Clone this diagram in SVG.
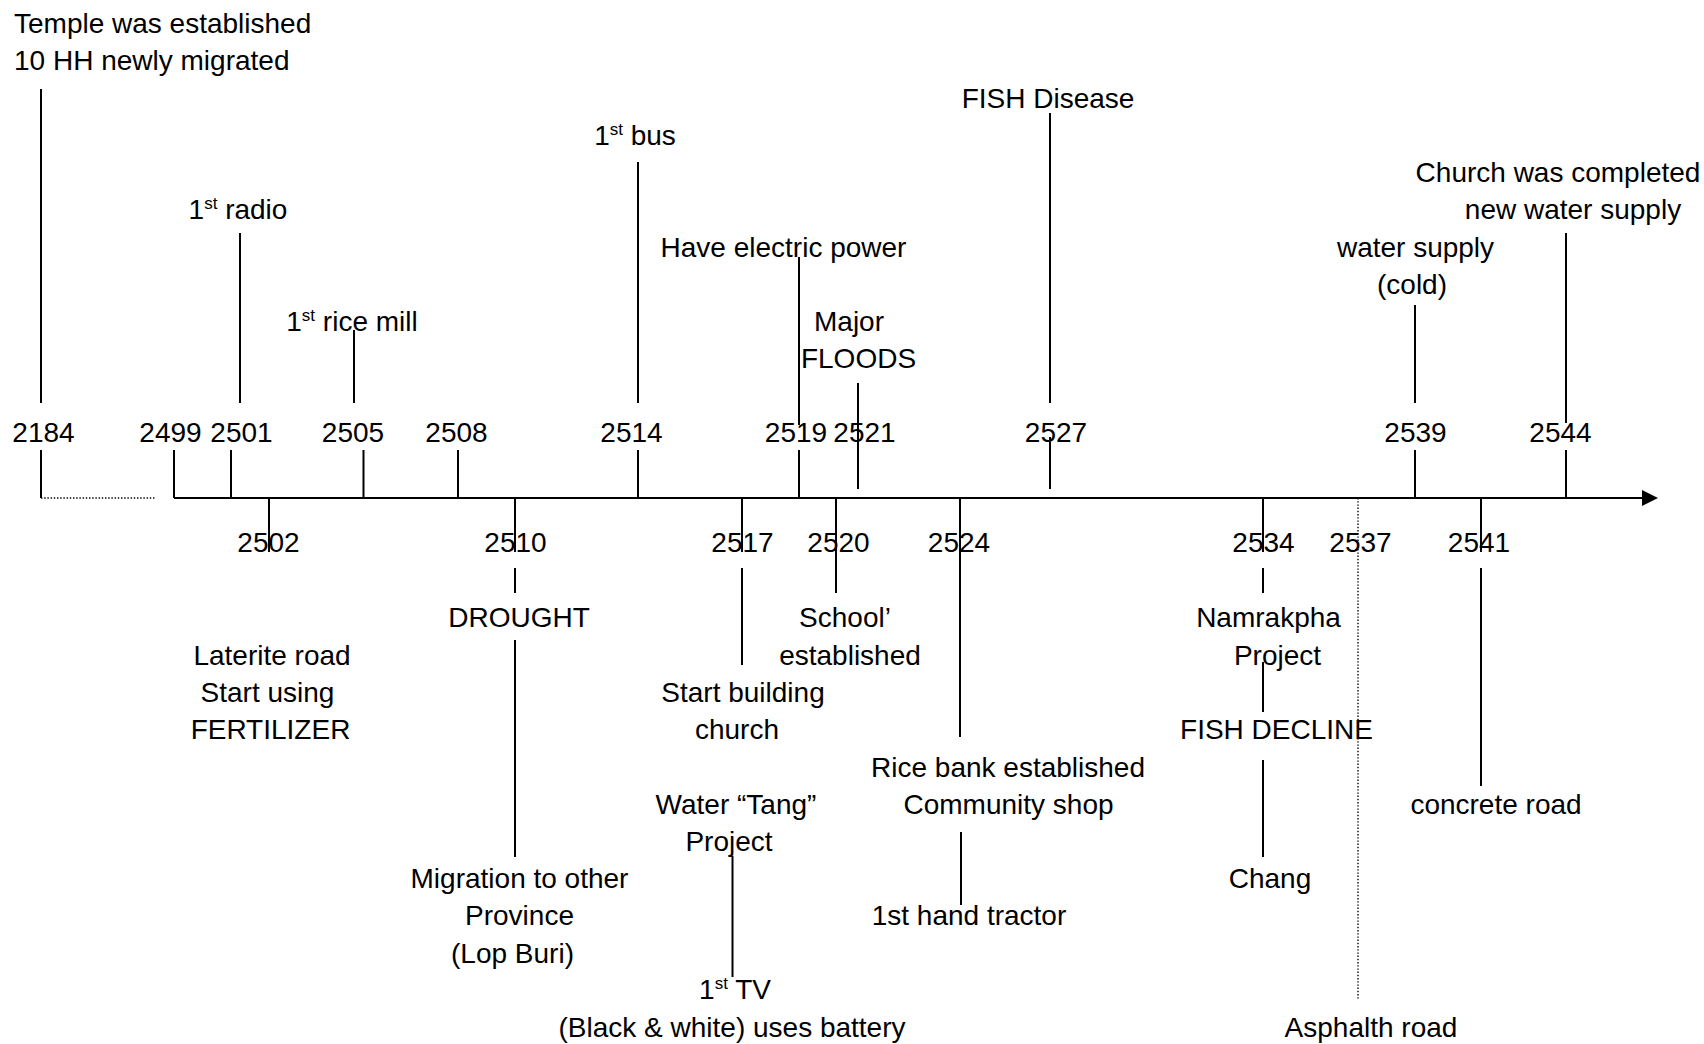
<svg xmlns="http://www.w3.org/2000/svg" width="1704" height="1044" viewBox="0 0 1704 1044">
<style>
text{font-family:"Liberation Sans",Arial,sans-serif;font-size:28px;fill:#000;text-anchor:middle}
.l{text-anchor:start}
.sup{font-size:17px}
line,path{stroke:#000;stroke-width:2;fill:none}
.dot{stroke-width:1.4;stroke-dasharray:1.4 1.8}
</style>
<defs>
<marker id="arr" markerWidth="16" markerHeight="16" refX="2" refY="8" orient="auto" markerUnits="userSpaceOnUse">
<path d="M0,0 L16,8 L0,16 Z" style="fill:#000;stroke:none"/>
</marker>
</defs>
<rect width="1704" height="1044" fill="#fff"/>
<g id="connectors">
<line x1="174" y1="498" x2="1644" y2="498" marker-end="url(#arr)"/>
<line class="dot" x1="41" y1="498" x2="156" y2="498"/>
<line x1="41" y1="89" x2="41" y2="403"/>
<line x1="41" y1="450" x2="41" y2="498"/>
<line x1="240" y1="233" x2="240" y2="403"/>
<line x1="354" y1="330" x2="354" y2="403"/>
<line x1="638" y1="162" x2="638" y2="403"/>
<line x1="799" y1="257" x2="799" y2="425"/>
<line x1="858" y1="383" x2="858" y2="489"/>
<line x1="1050" y1="113" x2="1050" y2="403"/>
<line x1="1050" y1="437" x2="1050" y2="489"/>
<line x1="1415" y1="305" x2="1415" y2="403"/>
<line x1="1566" y1="233" x2="1566" y2="423"/>
<line x1="174" y1="450" x2="174" y2="498"/>
<line x1="231" y1="450" x2="231" y2="498"/>
<line x1="363.5" y1="450" x2="363.5" y2="498"/>
<line x1="458" y1="450" x2="458" y2="498"/>
<line x1="638" y1="450" x2="638" y2="498"/>
<line x1="799" y1="450" x2="799" y2="498"/>
<line x1="1415" y1="450" x2="1415" y2="498"/>
<line x1="1566" y1="450" x2="1566" y2="498"/>
<line x1="269" y1="498" x2="269" y2="552"/>
<line x1="515" y1="498" x2="515" y2="552"/>
<line x1="515" y1="568" x2="515" y2="593"/>
<line x1="515" y1="640" x2="515" y2="857"/>
<line x1="742" y1="498" x2="742" y2="552"/>
<line x1="742" y1="568" x2="742" y2="665"/>
<line x1="836" y1="498" x2="836" y2="593"/>
<line x1="960" y1="498" x2="960" y2="737"/>
<line x1="961" y1="832" x2="961" y2="905"/>
<line x1="732.5" y1="856" x2="732.5" y2="977"/>
<line x1="1263" y1="498" x2="1263" y2="552"/>
<line x1="1263" y1="568" x2="1263" y2="593"/>
<line x1="1263" y1="662" x2="1263" y2="712"/>
<line x1="1263" y1="760" x2="1263" y2="857"/>
<line class="dot" x1="1358" y1="498" x2="1358" y2="999"/>
<line x1="1481" y1="498" x2="1481" y2="552"/>
<line x1="1481" y1="568" x2="1481" y2="786"/>
</g>
<g id="years-top">
<text x="43.5" y="442">2184</text>
<text x="170.5" y="442">2499</text>
<text x="241.5" y="442">2501</text>
<text x="353" y="442">2505</text>
<text x="456.5" y="442">2508</text>
<text x="631.5" y="442">2514</text>
<text x="796" y="442">2519</text>
<text x="864.5" y="442">2521</text>
<text x="1056" y="442">2527</text>
<text x="1415.5" y="442">2539</text>
<text x="1560.5" y="442">2544</text>
</g>
<g id="years-bottom">
<text x="268.5" y="552">2502</text>
<text x="515.5" y="552">2510</text>
<text x="742.5" y="552">2517</text>
<text x="838.5" y="552">2520</text>
<text x="959" y="552">2524</text>
<text x="1263.5" y="552">2534</text>
<text x="1360.5" y="552">2537</text>
<text x="1479" y="552">2541</text>
</g>
<g id="ev-2184">
<text class="l" x="14" y="33">Temple was established</text>
<text class="l" x="14" y="70">10 HH newly migrated</text>
</g>
<g id="ev-2501"><text x="238" y="219">1<tspan class="sup" dy="-10">st</tspan><tspan dy="10"> radio</tspan></text></g>
<g id="ev-2505"><text x="352" y="331">1<tspan class="sup" dy="-10">st</tspan><tspan dy="10"> rice mill</tspan></text></g>
<g id="ev-2514"><text x="635" y="145">1<tspan class="sup" dy="-10">st</tspan><tspan dy="10"> bus</tspan></text></g>
<g id="ev-2519"><text x="783.5" y="257">Have electric power</text></g>
<g id="ev-2521">
<text x="849" y="331">Major</text>
<text x="858.5" y="368">FLOODS</text>
</g>
<g id="ev-2527"><text x="1048" y="108">FISH Disease</text></g>
<g id="ev-2539">
<text x="1415.5" y="257">water supply</text>
<text x="1412" y="294">(cold)</text>
</g>
<g id="ev-2544">
<text x="1558" y="182">Church was completed</text>
<text x="1573" y="219">new water supply</text>
</g>
<g id="ev-2502">
<text x="272" y="665">Laterite road</text>
<text x="267.5" y="702">Start using</text>
<text x="270.5" y="739">FERTILIZER</text>
</g>
<g id="ev-2510">
<text x="519" y="627">DROUGHT</text>
</g>
<g id="ev-2510-migration">
<text x="519.5" y="888">Migration to other</text>
<text x="519.5" y="925">Province</text>
<text x="512.5" y="963">(Lop Buri)</text>
</g>
<g id="ev-2517">
<text x="743" y="702">Start building</text>
<text x="737" y="739">church</text>
</g>
<g id="ev-2517-tang">
<text x="736" y="814">Water “Tang”</text>
<text x="729" y="851">Project</text>
</g>
<g id="ev-2517-tv">
<text x="735" y="999">1<tspan class="sup" dy="-10">st</tspan><tspan dy="10"> TV</tspan></text>
<text x="732" y="1037">(Black &amp; white) uses battery</text>
</g>
<g id="ev-2520">
<text x="845" y="627">School’</text>
<text x="850" y="665">established</text>
</g>
<g id="ev-2524">
<text x="1008" y="777">Rice bank established</text>
<text x="1008.5" y="814">Community shop</text>
</g>
<g id="ev-2524-tractor"><text x="969" y="925">1st hand tractor</text></g>
<g id="ev-2534">
<text x="1268.5" y="627">Namrakpha</text>
<text x="1277.5" y="665">Project</text>
</g>
<g id="ev-2534-fish"><text x="1276.5" y="739">FISH DECLINE</text></g>
<g id="ev-2534-chang"><text x="1270" y="888">Chang</text></g>
<g id="ev-2537"><text x="1371" y="1037">Asphalth road</text></g>
<g id="ev-2541"><text x="1496" y="814">concrete road</text></g>
</svg>
